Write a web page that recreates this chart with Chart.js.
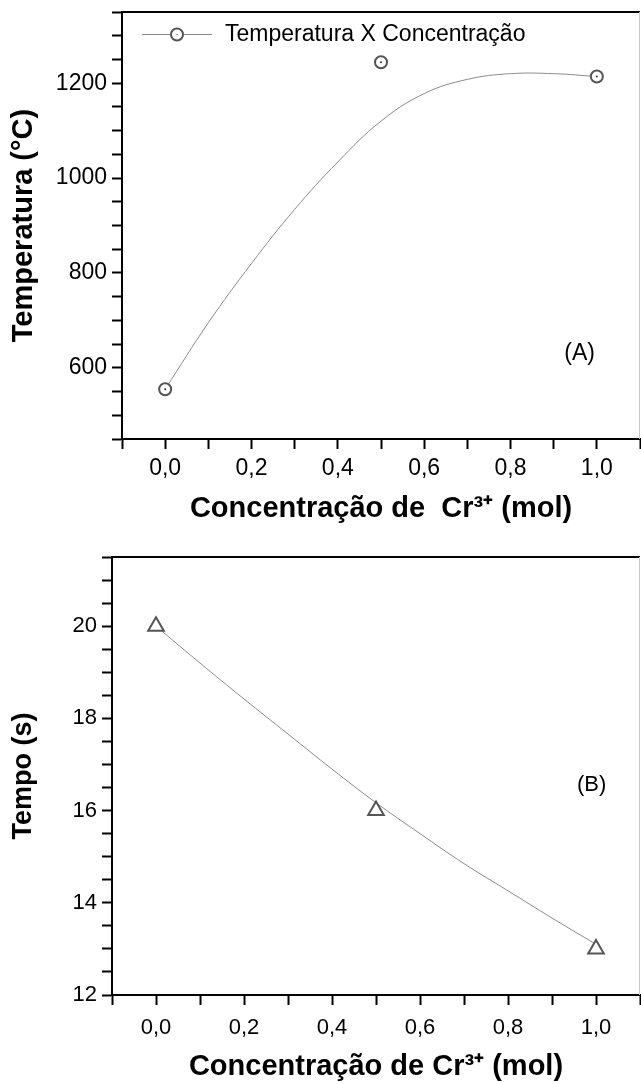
<!DOCTYPE html>
<html>
<head>
<meta charset="utf-8">
<script src="https://cdn.jsdelivr.net/npm/chart.js@4.4.0/dist/chart.umd.min.js"></script>
<style>
  body { margin: 0; background: #fff; }
  .box { position: absolute; left: 0; width: 641px; }
  #boxA { top: 0; height: 540px; }
  #boxB { top: 540px; height: 544px; }
</style>
</head>
<body>
<div class="box" id="boxA"><canvas id="chartA" width="641" height="540"></canvas></div>
<div class="box" id="boxB"><canvas id="chartB" width="641" height="544"></canvas></div>
<script>
// measured points
const concentration = [0, 0.5, 1.0];
const temperature = [555, 1244, 1214];
const tempo = [20, 16, 13];

// smoothed curves, every 0.1 mol
const fitX = [0, 0.1, 0.2, 0.3, 0.4, 0.5, 0.6, 0.7, 0.8, 0.9, 1.0];
const temperatureFit = [555, 695, 820, 934, 1034, 1120, 1178, 1208, 1220, 1220, 1214];
const tempoFit = [20.0, 19.2, 18.42, 17.66, 16.9, 16.17, 15.5, 14.85, 14.26, 13.67, 13.1];

// tick labels
const xTickLabels = ['0,0', '0,2', '0,4', '0,6', '0,8', '1,0'];
const tempTickLabels = [600, 800, 1000, 1200];
const tempoTickLabels = [12, 14, 16, 18, 20];

const FONT = 'Arial, "Liberation Sans", sans-serif';
const MARK = '#555';

function pts(xs, ys) {
  return xs.map((x, i) => ({ x: x, y: ys[i] }));
}

function xLabel(v) {
  const k = Math.round(v * 10);
  if (k >= 0 && k <= 10 && k % 2 === 0) return xTickLabels[k / 2];
  return '';
}

// top + right frame lines and the (A)/(B) tag
const frame = {
  id: 'frame',
  afterDraw(chart, args, opts) {
    const { ctx, chartArea: a } = chart;
    ctx.save();
    ctx.strokeStyle = '#000';
    ctx.lineWidth = 2;
    ctx.beginPath();
    ctx.moveTo(a.left - 1, a.top);
    ctx.lineTo(a.right, a.top);
    ctx.stroke();
    ctx.strokeStyle = '#c8c8c8';
    ctx.lineWidth = 1;
    ctx.beginPath();
    ctx.moveTo(a.right - 0.5, a.top);
    ctx.lineTo(a.right - 0.5, a.bottom);
    ctx.stroke();
    ctx.fillStyle = '#000';
    ctx.font = opts.tagSize + 'px ' + FONT;
    ctx.textAlign = 'center';
    ctx.textBaseline = 'middle';
    ctx.fillText(opts.tag, chart.scales.x.getPixelForValue(opts.tagAt[0]), chart.scales.y.getPixelForValue(opts.tagAt[1]));
    ctx.restore();
  }
};

// legend box inside panel A
const innerLegend = {
  id: 'innerLegend',
  afterDraw(chart, args, opts) {
    if (!opts.text) return;
    const { ctx, chartArea: a } = chart;
    const y = a.top + 22.5;
    ctx.save();
    ctx.strokeStyle = '#888';
    ctx.lineWidth = 1;
    ctx.beginPath();
    ctx.moveTo(a.left + 20, y);
    ctx.lineTo(a.left + 90, y);
    ctx.stroke();
    ctx.fillStyle = '#fff';
    ctx.strokeStyle = MARK;
    ctx.lineWidth = 2;
    ctx.beginPath();
    ctx.arc(a.left + 55, y, 6, 0, Math.PI * 2);
    ctx.fill();
    ctx.stroke();
    ctx.fillStyle = '#333';
    ctx.fillRect(a.left + 54.5, y - 0.5, 1, 1);
    ctx.fillStyle = '#000';
    ctx.font = '23px ' + FONT;
    ctx.textAlign = 'left';
    ctx.textBaseline = 'middle';
    ctx.fillText(opts.text, a.left + 103, y);
    ctx.restore();
  }
};

function makeChart(id, cfg) {
  const ctx = document.getElementById(id).getContext('2d');
  return new Chart(ctx, {
    type: 'scatter',
    data: {
      datasets: [
        {
          data: pts(concentration, cfg.values),
          pointStyle: cfg.pointStyle,
          pointRadius: cfg.pointRadius,
          pointBorderWidth: 2,
          pointBorderColor: MARK,
          pointBackgroundColor: '#fff',
          showLine: false,
          order: 1
        },
        {
          data: pts(concentration, cfg.values),
          pointRadius: cfg.dot,
          pointBorderWidth: 0,
          pointBackgroundColor: '#333',
          showLine: false,
          order: 0
        },
        {
          data: pts(fitX, cfg.fit),
          showLine: true,
          tension: 0.4,
          borderColor: '#8a8a8a',
          borderWidth: 1,
          pointRadius: 0,
          order: 2
        }
      ]
    },
    options: {
      responsive: false,
      animation: false,
      layout: { autoPadding: false, padding: { top: cfg.top, right: 1, left: 0, bottom: 0 } },
      plugins: {
        legend: { display: false },
        tooltip: { enabled: false },
        frame: { tag: cfg.tag, tagAt: cfg.tagAt, tagSize: cfg.tagSize },
        innerLegend: { text: cfg.legend }
      },
      scales: {
        x: {
          type: 'linear',
          min: -0.1,
          max: 1.1,
          afterFit: s => { s.height = cfg.xHeight; s.paddingLeft = 0; s.paddingRight = 0; },
          border: { display: true, color: '#000', width: 2 },
          grid: { drawOnChartArea: false, drawTicks: true, tickLength: 10, tickWidth: 2, tickColor: '#000' },
          ticks: {
            stepSize: 0.1,
            autoSkip: false,
            maxRotation: 0,
            padding: cfg.xTickPad,
            color: '#000',
            font: { family: FONT, size: cfg.tickSize },
            callback: v => xLabel(v)
          },
          title: {
            display: true,
            text: cfg.xTitle,
            color: '#000',
            font: { family: FONT, size: 29, weight: 'bold' },
            padding: { top: 0, bottom: cfg.xTitlePad }
          }
        },
        y: {
          type: 'linear',
          min: cfg.yMin,
          max: cfg.yMax,
          afterFit: s => { s.width = cfg.yWidth; s.paddingTop = 0; s.paddingBottom = 0; },
          border: { display: true, color: '#000', width: 2 },
          grid: { drawOnChartArea: false, drawTicks: true, tickLength: 10, tickWidth: 2, tickColor: '#000' },
          ticks: {
            stepSize: cfg.yStep,
            autoSkip: false,
            padding: 5,
            color: '#000',
            font: { family: FONT, size: cfg.tickSize },
            callback: v => (cfg.yLabels.includes(v) ? String(v) : '')
          },
          title: {
            display: true,
            text: cfg.yTitle,
            color: '#000',
            font: { family: FONT, size: cfg.yTitleSize, weight: 'bold' },
            padding: { top: 7, bottom: 0 }
          }
        }
      }
    },
    plugins: [frame, innerLegend]
  });
}

makeChart('chartA', {
  values: temperature,
  fit: temperatureFit,
  pointStyle: 'circle',
  pointRadius: 6,
  dot: 1,
  yMin: 450,
  yMax: 1350,
  yStep: 50,
  yLabels: tempTickLabels,
  yTitle: 'Temperatura (°C)',
  yTitleSize: 29,
  xTitle: 'Concentração de  Cr³⁺ (mol)',
  top: 12,
  yWidth: 122,
  xHeight: 101,
  xTickPad: 6,
  xTitlePad: 14,
  tickSize: 23,
  tag: '(A)',
  tagAt: [0.96, 630],
  tagSize: 23,
  legend: 'Temperatura X Concentração'
});

makeChart('chartB', {
  values: tempo,
  fit: tempoFit,
  pointStyle: 'triangle',
  pointRadius: 9,
  dot: 0,
  yMin: 12,
  yMax: 21.5,
  yStep: 0.5,
  yLabels: tempoTickLabels,
  yTitle: 'Tempo (s)',
  yTitleSize: 27,
  xTitle: 'Concentração de Cr³⁺ (mol)',
  top: 17,
  yWidth: 112,
  xHeight: 89,
  xTickPad: 10,
  xTitlePad: 0,
  tickSize: 22,
  tag: '(B)',
  tagAt: [0.99, 16.55],
  tagSize: 22,
  legend: ''
});
</script>
</body>
</html>
